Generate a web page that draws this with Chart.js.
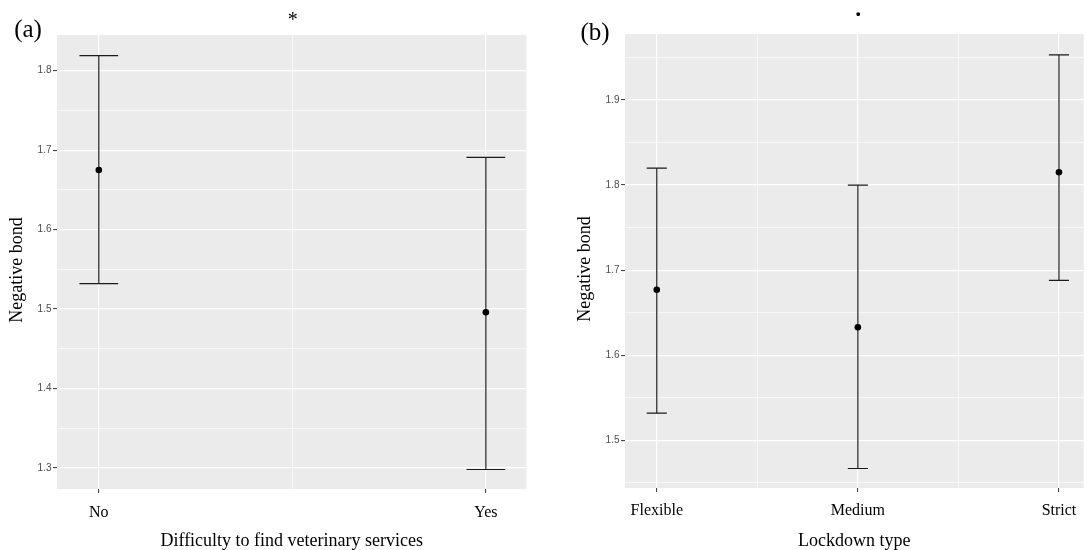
<!DOCTYPE html>
<html>
<head>
<meta charset="utf-8">
<title>Negative bond</title>
<script src="https://cdn.jsdelivr.net/npm/chart.js@4.4.0/dist/chart.umd.min.js"></script>
<style>
  html, body { margin: 0; padding: 0; background: #fff; }
  #wrap { position: relative; width: 1087px; height: 550px; overflow: hidden; }
  #wrap canvas { position: absolute; top: 0; }
  #chartA { left: 0; }
  #chartB { left: 545px; }
</style>
</head>
<body>
<div id="wrap">
  <canvas id="chartA" width="545" height="550"></canvas>
  <canvas id="chartB" width="542" height="550"></canvas>
</div>
<script>
// (a) difficulty to find veterinary services
const vetCategories = ['No', 'Yes'];
const vetMeans = [1.675, 1.496];
const vetLower = [1.532, 1.298];
const vetUpper = [1.819, 1.691];
const vetYTicks = [1.3, 1.35, 1.4, 1.45, 1.5, 1.55, 1.6, 1.65, 1.7, 1.75, 1.8];
const vetXTicks = [1, 1.5, 2];

// (b) lockdown type
const lockCategories = ['Flexible', 'Medium', 'Strict'];
const lockMeans = [1.677, 1.633, 1.815];
const lockLower = [1.532, 1.467, 1.688];
const lockUpper = [1.820, 1.800, 1.953];
const lockYTicks = [1.45, 1.5, 1.55, 1.6, 1.65, 1.7, 1.75, 1.8, 1.85, 1.9, 1.95];
const lockXTicks = [1, 1.5, 2, 2.5, 3];

(function () {
  const SERIF = '"Liberation Serif", "Times New Roman", serif';
  const SANS = '"Liberation Sans", Arial, sans-serif';
  const PANEL_BG = '#EBEBEB';

  Chart.defaults.font.family = SANS;
  Chart.defaults.animation = false;

  const isMajorY = v => Math.abs(v * 10 - Math.round(v * 10)) < 1e-6;
  const isWhole = v => Math.abs(v - Math.round(v)) < 1e-6;

  // grey panel like ggplot's theme_gray
  const panelBg = {
    id: 'panelBg',
    beforeDraw(chart) {
      const { ctx, chartArea: a } = chart;
      ctx.save();
      ctx.fillStyle = PANEL_BG;
      ctx.fillRect(a.left, a.top, a.right - a.left, a.bottom - a.top);
      ctx.restore();
    }
  };

  // vertical error bars with caps, drawn through the chart's scales
  const errorBars = {
    id: 'errorBars',
    beforeDatasetsDraw(chart, args, opts) {
      const { ctx, scales: { x, y } } = chart;
      ctx.save();
      ctx.strokeStyle = '#1a1a1a';
      ctx.lineWidth = 1.15;
      opts.lower.forEach((lo, i) => {
        const cx = x.getPixelForValue(i + 1);
        const left = x.getPixelForValue(i + 1 - opts.capHalf);
        const right = x.getPixelForValue(i + 1 + opts.capHalf);
        const yLo = y.getPixelForValue(lo);
        const yHi = y.getPixelForValue(opts.upper[i]);
        ctx.beginPath();
        ctx.moveTo(cx, yLo); ctx.lineTo(cx, yHi);
        ctx.moveTo(left, yLo); ctx.lineTo(right, yLo);
        ctx.moveTo(left, yHi); ctx.lineTo(right, yHi);
        ctx.stroke();
      });
      ctx.restore();
    }
  };

  // panel tag, significance mark and y title
  const panelText = {
    id: 'panelText',
    afterDraw(chart, args, opts) {
      const { ctx, chartArea: a } = chart;
      ctx.save();
      ctx.fillStyle = '#000';
      ctx.textAlign = 'center';
      ctx.textBaseline = 'alphabetic';
      ctx.font = '25px ' + SERIF;
      ctx.fillText(opts.tag, opts.tagX, opts.tagY);
      ctx.font = opts.markFont;
      ctx.fillText(opts.mark, (a.left + a.right) / 2 + opts.markDx, opts.markY);

      // y title sits a little below the panel middle in the original
      ctx.translate(opts.yTitleX, (a.top + a.bottom) / 2 + 8);
      ctx.rotate(-Math.PI / 2);
      ctx.textBaseline = 'middle';
      ctx.font = '18px ' + SERIF;
      ctx.fillText('Negative bond', 0, 0);
      ctx.restore();
    }
  };

  function makeChart(canvasId, cfg) {
    const points = cfg.means.map((m, i) => ({ x: i + 1, y: m }));
    return new Chart(document.getElementById(canvasId), {
      type: 'scatter',
      data: {
        datasets: [{
          data: points,
          pointRadius: 3.3,
          pointHoverRadius: 3.3,
          pointBackgroundColor: '#000',
          pointBorderColor: '#000',
          pointBorderWidth: 0
        }]
      },
      options: {
        responsive: false,
        devicePixelRatio: 1,
        layout: { padding: { left: 0, right: cfg.padRight, top: cfg.padTop, bottom: 0 } },
        plugins: {
          legend: { display: false },
          tooltip: { enabled: false },
          errorBars: { lower: cfg.lower, upper: cfg.upper, capHalf: 0.05 },
          panelText: cfg.text
        },
        scales: {
          x: {
            type: 'linear',
            min: cfg.xMin,
            max: cfg.xMax,
            afterBuildTicks: s => { s.ticks = cfg.xTicks.map(v => ({ value: v })); },
            afterFit: s => {
              s.height = 550 - cfg.plotBottom;
              s.paddingLeft = 0;
              s.paddingRight = 0;
            },
            border: { display: false },
            grid: {
              color: '#fff',
              lineWidth: c => (isWhole(c.tick.value) ? 1.2 : 0.6),
              tickColor: c => (isWhole(c.tick.value) ? '#333' : 'rgba(0,0,0,0)'),
              tickLength: 4,
              tickWidth: 1
            },
            ticks: {
              autoSkip: false,
              maxRotation: 0,
              padding: cfg.xLabelPad,
              color: '#000',
              font: { family: SERIF, size: 16 },
              callback: v => (isWhole(v) ? cfg.categories[Math.round(v) - 1] : '')
            },
            title: {
              display: true,
              text: cfg.xTitle,
              color: '#000',
              font: { family: SERIF, size: 18, lineHeight: 1 },
              padding: { top: 0, bottom: 0 }
            }
          },
          y: {
            min: cfg.yMin,
            max: cfg.yMax,
            afterBuildTicks: s => { s.ticks = cfg.yTicks.map(v => ({ value: v })); },
            afterFit: s => { s.width = cfg.plotLeft; },
            border: { display: false },
            grid: {
              color: '#fff',
              lineWidth: c => (isMajorY(c.tick.value) ? 1.2 : 0.6),
              tickColor: c => (isMajorY(c.tick.value) ? '#333' : 'rgba(0,0,0,0)'),
              tickLength: 4,
              tickWidth: 1
            },
            ticks: {
              padding: 1.5,
              color: '#4d4d4d',
              font: { family: SANS, size: 10 },
              callback: v => (isMajorY(v) ? v.toFixed(1) : '')
            },
            title: { display: false }
          }
        }
      },
      plugins: [panelBg, errorBars, panelText]
    });
  }

  makeChart('chartA', {
    categories: vetCategories,
    means: vetMeans,
    lower: vetLower,
    upper: vetUpper,
    yTicks: vetYTicks,
    xTicks: vetXTicks,
    xMin: 0.892, xMax: 2.105,
    yMin: 1.2735, yMax: 1.845,
    plotLeft: 57, plotBottom: 489,
    padTop: 35, padRight: 18.5,
    xLabelPad: 10.5,
    xTitle: 'Difficulty to find veterinary services',
    text: { tag: '(a)', tagX: 28, tagY: 37, mark: '*', markFont: '20px ' + SERIF, markDx: 1, markY: 26, yTitleX: 17.5 }
  });

  makeChart('chartB', {
    categories: lockCategories,
    means: lockMeans,
    lower: lockLower,
    upper: lockUpper,
    yTicks: lockYTicks,
    xTicks: lockXTicks,
    xMin: 0.842, xMax: 3.123,
    yMin: 1.4441, yMax: 1.9775,
    plotLeft: 80, plotBottom: 488,
    padTop: 34, padRight: 0,
    xLabelPad: 9,
    xTitle: 'Lockdown type',
    text: { tag: '(b)', tagX: 50, tagY: 40, mark: '.', markFont: 'bold 24px ' + SERIF, markDx: 4, markY: 16, yTitleX: 40 }
  });
})();
</script>
</body>
</html>
